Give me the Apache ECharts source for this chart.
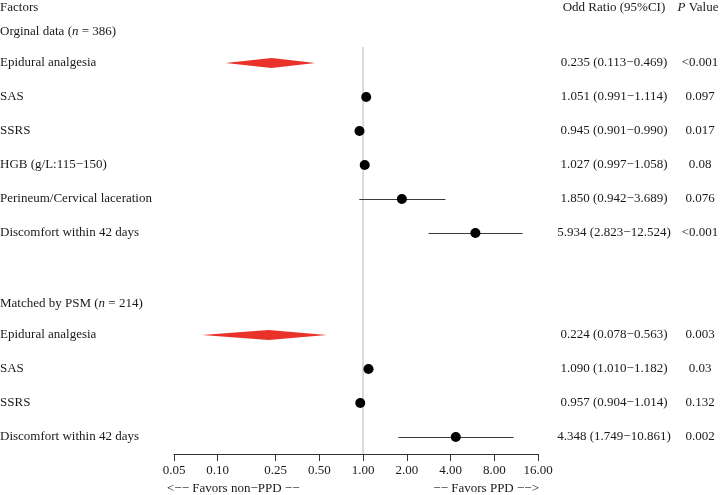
<!DOCTYPE html>
<html>
<head>
<meta charset="utf-8">
<script src="https://cdn.jsdelivr.net/npm/echarts@6/dist/echarts.min.js"></script>
<style>html,body{margin:0;padding:0;background:#fff}#c{width:720px;height:495px}</style>
</head>
<body>
<div id="c"></div>
<script>
const categories = ['Orginal data (n = 386)', 'Epidural analgesia', 'SAS', 'SSRS', 'HGB (g/L:115\u2212150)', 'Perineum/Cervical laceration', 'Discomfort within 42 days', '', 'Matched by PSM (n = 214)', 'Epidural analgesia', 'SAS', 'SSRS', 'Discomfort within 42 days'];
const oddRatio = [null, 0.235, 1.051, 0.945, 1.027, 1.850, 5.934, null, null, 0.224, 1.090, 0.957, 4.348];
const ciLower  = [null, 0.113, 0.991, 0.901, 0.997, 0.942, 2.823, null, null, 0.078, 1.010, 0.904, 1.749];
const ciUpper  = [null, 0.469, 1.114, 0.990, 1.058, 3.689, 12.524, null, null, 0.563, 1.182, 1.014, 10.861];
const pValues  = ['', '<0.001', '0.097', '0.017', '0.08', '0.076', '<0.001', '', '', '0.003', '0.03', '0.132', '0.002'];
const xTicks = [0.05, 0.10, 0.25, 0.50, 1.00, 2.00, 4.00, 8.00, 16.00];
const diamondRows = ['Epidural analgesia'];

const FONT = 'Liberation Serif';
const FS = 13;
const TXT = '#1a1a1a';
const F = FS + 'px "Liberation Serif"';

const ciText = oddRatio.map((v, i) => v == null ? '' :
  v.toFixed(3) + ' (' + ciLower[i].toFixed(3) + '\u2212' + ciUpper[i].toFixed(3) + ')');

const pointData = [];
oddRatio.forEach((v, i) => { if (v != null) pointData.push([ciLower[i], v, ciUpper[i], i]); });

function leftLabel(v) {
  const m = v.match(/^(.*\()n( = .*)$/);
  if (m) return '{h|' + m[1] + '}{i|n}{h|' + m[2] + '}';
  return '{r|' + v + '}';
}

const chart = echarts.init(document.getElementById('c'));
chart.setOption({
  animation: false,
  textStyle: { fontFamily: FONT },
  grid: { left: 174, right: 182, top: 12, bottom: 41, containLabel: false, outerBoundsMode: 'none' },
  xAxis: {
    type: 'log', logBase: 2, min: 0.05, max: 16,
    axisLine: { show: true, lineStyle: { color: '#333', width: 1 } },
    axisTick: { show: true, length: 7, inside: false, customValues: xTicks, lineStyle: { color: '#333' } },
    axisLabel: { customValues: xTicks, formatter: v => Number(v).toFixed(2), color: TXT, fontFamily: FONT, fontSize: FS, margin: 10 },
    splitLine: { show: false },
    minorTick: { show: false }
  },
  yAxis: [
    {
      type: 'category', data: categories, inverse: true,
      axisLine: { show: false }, axisTick: { show: false }, splitLine: { show: false },
      axisLabel: {
        align: 'left', margin: 174, interval: 0, formatter: leftLabel,
        rich: {
          r: { fontFamily: FONT, fontSize: FS, color: TXT },
          h: { fontFamily: FONT, fontSize: FS, color: TXT, padding: [5, 0, 0, 0] },
          i: { fontFamily: FONT, fontSize: FS, color: TXT, fontStyle: 'italic', padding: [5, 0, 0, 0] }
        }
      }
    },
    {
      type: 'category', data: ciText, inverse: true, position: 'right', offset: 0,
      axisLine: { show: false }, axisTick: { show: false }, splitLine: { show: false },
      axisLabel: { align: 'center', margin: 76, interval: 0, color: TXT, fontFamily: FONT, fontSize: FS }
    },
    {
      type: 'category', data: pValues, inverse: true, position: 'right', offset: 0,
      axisLine: { show: false }, axisTick: { show: false }, splitLine: { show: false },
      axisLabel: { align: 'center', margin: 162, interval: 0, color: TXT, fontFamily: FONT, fontSize: FS }
    }
  ],
  graphic: [
    { type: 'text', x: 0, y: 8, style: { text: 'Factors', font: F, fill: TXT, align: 'left', verticalAlign: 'middle' } },
    { type: 'text', x: 614, y: 8, style: { text: 'Odd Ratio (95%CI)', font: F, fill: TXT, align: 'center', verticalAlign: 'middle' } },
    { type: 'text', x: 698, y: 8, style: { text: '{i|P}{r| Value}', font: F, fill: TXT, align: 'center', verticalAlign: 'middle',
        rich: { i: { fontStyle: 'italic', fontFamily: FONT, fontSize: FS, fill: TXT }, r: { fontFamily: FONT, fontSize: FS, fill: TXT } } } },
    { type: 'text', x: 167, y: 489, style: { text: '<\u2212\u2212 Favors non\u2212PPD \u2212\u2212', font: F, fill: TXT, align: 'left', verticalAlign: 'middle' } },
    { type: 'text', x: 539, y: 489, style: { text: '\u2212\u2212 Favors PPD \u2212\u2212>', font: F, fill: TXT, align: 'right', verticalAlign: 'middle' } }
  ],
  series: [
    {
      type: 'custom', z: 1, silent: true,
      data: [[1, 1]],
      encode: { x: 0, y: 1 },
      renderItem: function (params, api) {
        const a = api.coord([1, 1]);
        const b = api.coord([1, 2]);
        const bh = b[1] - a[1];
        const bottom = api.coord([1, categories.length - 1])[1] + bh / 2;
        return { type: 'line', shape: { x1: a[0], y1: a[1] - bh / 2 + 1, x2: a[0], y2: bottom },
                 style: { stroke: '#cfcfcf', lineWidth: 1.5 } };
      }
    },
    {
      type: 'custom', z: 3, silent: true,
      data: pointData,
      encode: { x: [0, 1, 2], y: 3 },
      renderItem: function (params, api) {
        const lo = api.value(0), est = api.value(1), hi = api.value(2), row = api.value(3);
        const pl = api.coord([lo, row]), pe = api.coord([est, row]), ph = api.coord([hi, row]);
        const y = pe[1];
        if (diamondRows.indexOf(categories[row]) >= 0) {
          return { type: 'polygon', shape: { points: [[pl[0], y], [pe[0], y - 5], [ph[0], y], [pe[0], y + 5]] },
                   style: { fill: '#e8322a' } };
        }
        const ly = Math.round(y) + 0.5;
        return { type: 'group', children: [
          { type: 'line', shape: { x1: pl[0], y1: ly, x2: ph[0], y2: ly }, style: { stroke: '#3a3a3a', lineWidth: 1 } },
          { type: 'circle', shape: { cx: pe[0], cy: y, r: 5 }, style: { fill: '#000' } }
        ] };
      }
    }
  ]
});
</script>
</body>
</html>
